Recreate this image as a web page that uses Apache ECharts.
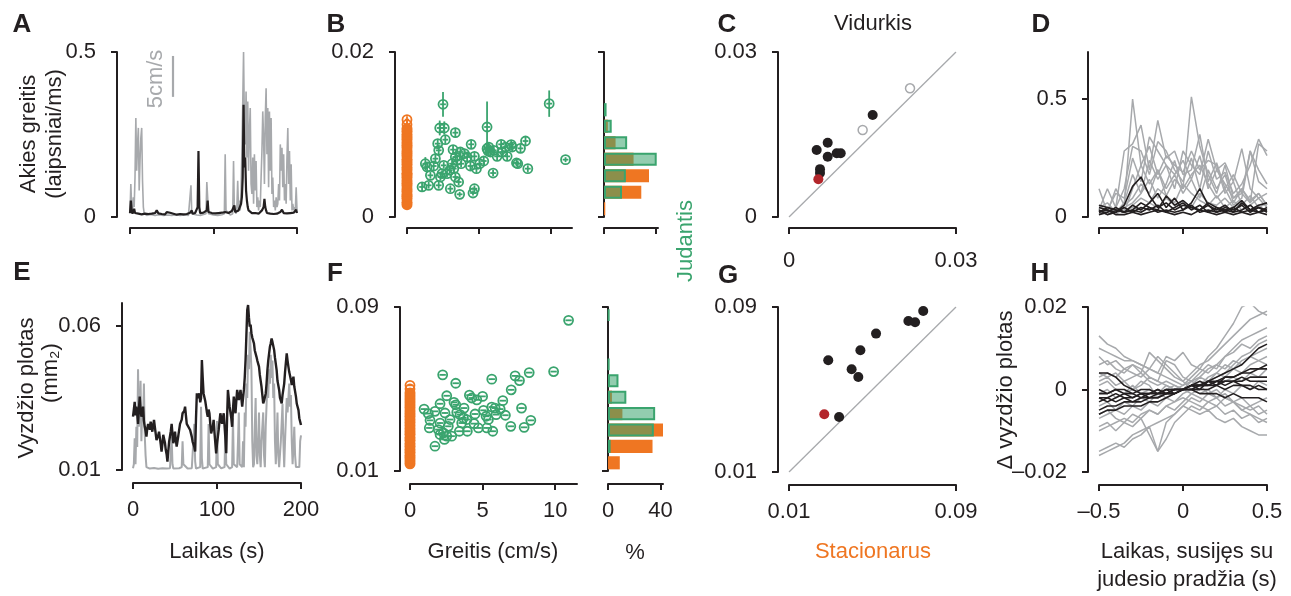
<!DOCTYPE html>
<html><head><meta charset="utf-8">
<script src="https://cdn.jsdelivr.net/npm/echarts@6/dist/echarts.min.js"></script>
<style>html,body{margin:0;padding:0;background:#fff}#c{width:1291px;height:596px}</style>
</head><body><div id="c"></div>
<script>
// ---------- DATA ----------
// Panel A: time (s), eye velocity (black) and running speed (gray, scaled)
const speedA = [[0,0.01],[1,0.10],[2,0.03],[3,0.02],[4,0.06],[5,0.03],[6,0.12],[7,0.30],[8,0.14],[9,0.22],[10,0.27],[11,0.08],[12,0.17],[13,0.24],[14,0.27],[15,0.11],[16,0.03],[17,0.01],[20,0.005],[25,0.008],[30,0.005],[35,0.007],[40,0.005],[45,0.006],[50,0.005],[55,0.007],[60,0.005],[65,0.006],[70,0.005],[72,0.01],[73,0.096],[74,0.01],[80,0.006],[85,0.005],[91,0.01],[92,0.106],[93,0.06],[94,0.01],[100,0.006],[105,0.005],[110,0.007],[113,0.01],[114,0.19],[115,0.02],[120,0.006],[123,0.01],[124,0.17],[125,0.02],[127,0.01],[128,0.03],[129,0.11],[130,0.02],[131,0.05],[132,0.02],[133,0.08],[134,0.20],[135,0.34],[136,0.50],[137,0.28],[138,0.22],[139,0.38],[140,0.18],[141,0.35],[142,0.14],[143,0.26],[144,0.33],[145,0.10],[146,0.07],[147,0.18],[148,0.04],[149,0.19],[150,0.08],[151,0.17],[152,0.03],[153,0.06],[154,0.02],[155,0.05],[156,0.03],[157,0.12],[158,0.20],[159,0.32],[160,0.24],[161,0.10],[162,0.30],[163,0.39],[164,0.19],[165,0.33],[166,0.09],[167,0.32],[168,0.14],[169,0.30],[170,0.07],[171,0.12],[172,0.03],[173,0.05],[174,0.02],[175,0.06],[176,0.03],[177,0.04],[178,0.10],[179,0.05],[180,0.22],[181,0.14],[182,0.21],[183,0.09],[184,0.19],[185,0.05],[186,0.10],[187,0.04],[188,0.18],[189,0.27],[190,0.10],[191,0.20],[192,0.05],[193,0.16],[194,0.02],[195,0.04],[196,0.02],[197,0.03],[198,0.02],[199,0.09],[200,0.02]];
const eyeA = [[0,0.012],[1,0.05],[2,0.02],[3,0.01],[4,0.015],[5,0.025],[6,0.012],[8,0.018],[10,0.01],[12,0.014],[14,0.008],[16,0.012],[18,0.01],[20,0.013],[22,0.009],[24,0.014],[26,0.01],[28,0.016],[30,0.012],[32,0.02],[34,0.011],[36,0.014],[38,0.009],[40,0.012],[42,0.008],[44,0.015],[46,0.01],[48,0.013],[50,0.008],[52,0.01],[54,0.012],[56,0.007],[58,0.011],[60,0.009],[62,0.012],[64,0.008],[66,0.01],[68,0.009],[70,0.011],[72,0.013],[74,0.02],[75,0.01],[78,0.012],[80,0.01],[81,0.03],[82,0.20],[83,0.03],[84,0.012],[86,0.01],[88,0.013],[90,0.01],[92,0.02],[93,0.05],[94,0.015],[96,0.01],[98,0.012],[100,0.009],[102,0.011],[104,0.008],[106,0.012],[108,0.01],[110,0.013],[112,0.009],[114,0.015],[116,0.01],[118,0.012],[120,0.01],[122,0.018],[124,0.012],[125,0.035],[126,0.015],[128,0.012],[130,0.02],[132,0.015],[133,0.04],[134,0.06],[135,0.12],[136,0.34],[137,0.15],[138,0.18],[139,0.08],[140,0.05],[141,0.03],[142,0.02],[144,0.015],[146,0.012],[148,0.01],[150,0.012],[152,0.015],[154,0.01],[156,0.012],[158,0.02],[160,0.03],[161,0.055],[162,0.03],[163,0.02],[164,0.012],[166,0.015],[168,0.01],[170,0.012],[172,0.009],[174,0.011],[176,0.01],[178,0.012],[180,0.015],[182,0.022],[184,0.012],[186,0.01],[188,0.011],[190,0.009],[192,0.012],[194,0.01],[196,0.013],[198,0.015],[199,0.022],[200,0.012]];
const scaleBarA = [[51.5,0.364],[51.5,0.488]];

// Panel B: speed (cm/s) vs eye velocity
const bSpeed = [2.51,5.58,9.91,11.05,2.28,2.6,3.37,2.14,2.67,2.21,3.21,3.72,4.0,4.47,3.37,3.49,4.19,4.7,4.42,4.84,5.07,5.35,5.7,5.81,6.05,6.56,6.98,7.26,7.33,7.91,8.26,7.63,7.72,8.42,6.0,6.28,1.28,1.4,1.98,1.86,1.63,1.05,1.51,2.21,2.33,2.56,2.98,3.02,3.37,3.6,3.67,4.6,4.7,3.26,3.14,3.77,2.79,2.44,5.58,5.65,6.86,6.63];
const bEye = [0.01366,0.01091,0.01374,0.00695,0.01079,0.01079,0.01022,0.00889,0.00937,0.00808,0.00816,0.00788,0.00768,0.00881,0.00727,0.00687,0.00727,0.00735,0.00618,0.00586,0.00646,0.00679,0.00848,0.00788,0.00808,0.00881,0.00735,0.00877,0.00848,0.00832,0.00921,0.00655,0.00646,0.00586,0.00533,0.00735,0.00646,0.00606,0.00707,0.00618,0.00505,0.00364,0.00384,0.00384,0.00485,0.00626,0.00566,0.00343,0.00485,0.00424,0.00275,0.00291,0.00343,0.00586,0.00646,0.00646,0.00525,0.00525,0.00828,0.00800,0.00848,0.00788];
const bEyeErr = [0.0015,0.0031,0.0016,0.0003,0.0009,0.0008,0.0006,0.0005,0.0005,0.0005,0.0005,0.0005,0.0005,0.0005,0.0005,0.0005,0.0005,0.0005,0.0005,0.0005,0.0005,0.0005,0.0005,0.0005,0.0005,0.0005,0.0005,0.0005,0.0006,0.0005,0.0005,0.0004,0.0004,0.0004,0.0004,0.0005,0.0008,0.0005,0.0005,0.0005,0.0004,0.0005,0.0004,0.0004,0.0004,0.0004,0.0004,0.0004,0.0004,0.0004,0.0003,0.0003,0.0004,0.0004,0.0004,0.0004,0.0004,0.0004,0.0005,0.0005,0.0005,0.0005];
const bStillEye = [0.0015,0.0018,0.0022,0.0025,0.0027,0.0031,0.0034,0.0038,0.0041,0.0044,0.0048,0.0051,0.0053,0.0057,0.0060,0.0064,0.0067,0.0070,0.0074,0.0077,0.0080,0.0084,0.0087,0.0090,0.0094,0.0097,0.0100,0.0104,0.0107];
const bStillTop = [0.0112,0.0118];

// Histogram bins (fraction of samples, %)
const binsB = ['0.001','0.003','0.005','0.007','0.009','0.011','0.013','0.015','0.017','0.019'];
const histBStill = [1,29,35,23,9,3,0,0,0,0];
const histBMove  = [0,14,17,41,18,6,2,0,0,0];

// Panel C: mean eye velocity, stationary vs moving
const cBlack = [[0.00497,0.01218],[0.00695,0.01351],[0.00695,0.01096],[0.00857,0.01158],[0.00929,0.01158],[0.00557,0.0087],[0.00557,0.0080],[0.01503,0.01855]];
const cOpen = [[0.01323,0.01582],[0.02174,0.0234]];
const cRed = [[0.00527,0.00685]];
const unityC = [[0,0],[0.03,0.03]];

// Panel D: eye velocity aligned to movement onset
const tRel = [-0.5,-0.45,-0.4,-0.35,-0.3,-0.25,-0.2,-0.15,-0.1,-0.05,0,0.05,0.1,0.15,0.2,0.25,0.3,0.35,0.4,0.45,0.5];
const dGray = [
 [0.12,0.02,0.12,0.05,0.50,0.22,0.14,0.20,0.09,0.16,0.12,0.51,0.30,0.18,0.10,0.22,0.08,0.12,0.06,0.10,0.05],
 [0.03,0.12,0.04,0.28,0.31,0.39,0.20,0.41,0.25,0.28,0.18,0.20,0.35,0.15,0.23,0.12,0.18,0.10,0.28,0.15,0.12],
 [0.02,0.03,0.10,0.08,0.25,0.15,0.34,0.28,0.22,0.12,0.28,0.22,0.18,0.33,0.20,0.23,0.15,0.29,0.12,0.08,0.10],
 [0.05,0.02,0.04,0.12,0.30,0.28,0.18,0.32,0.28,0.20,0.15,0.25,0.12,0.28,0.16,0.19,0.10,0.14,0.22,0.33,0.26],
 [0.01,0.04,0.02,0.06,0.18,0.10,0.24,0.16,0.22,0.18,0.24,0.16,0.26,0.12,0.20,0.14,0.08,0.10,0.06,0.31,0.28],
 [0.02,0.01,0.03,0.02,0.12,0.22,0.30,0.18,0.26,0.22,0.19,0.28,0.20,0.24,0.22,0.10,0.15,0.05,0.09,0.04,0.06],
 [0.04,0.06,0.02,0.05,0.08,0.14,0.10,0.20,0.12,0.18,0.10,0.16,0.08,0.20,0.12,0.18,0.06,0.12,0.07,0.10,0.05],
 [0.02,0.03,0.01,0.04,0.06,0.10,0.16,0.08,0.14,0.24,0.12,0.18,0.22,0.14,0.08,0.12,0.05,0.08,0.28,0.20,0.14],
 [0.01,0.02,0.03,0.02,0.05,0.08,0.06,0.12,0.09,0.06,0.14,0.10,0.07,0.05,0.09,0.04,0.07,0.03,0.05,0.08,0.04],
 [0.03,0.01,0.02,0.03,0.04,0.03,0.06,0.04,0.08,0.05,0.07,0.04,0.10,0.06,0.05,0.08,0.04,0.06,0.03,0.05,0.02]
];
const dBlack = [
 [0.04,0.03,0.02,0.05,0.13,0.17,0.09,0.04,0.06,0.03,0.05,0.04,0.03,0.05,0.02,0.04,0.03,0.05,0.02,0.04,0.03],
 [0.02,0.04,0.03,0.02,0.05,0.03,0.06,0.10,0.04,0.08,0.03,0.06,0.12,0.05,0.03,0.05,0.02,0.06,0.03,0.02,0.04],
 [0.01,0.02,0.04,0.02,0.03,0.06,0.04,0.03,0.09,0.05,0.07,0.04,0.03,0.06,0.04,0.02,0.04,0.07,0.03,0.05,0.06],
 [0.03,0.01,0.02,0.04,0.02,0.04,0.03,0.05,0.02,0.04,0.06,0.03,0.05,0.02,0.04,0.03,0.02,0.03,0.05,0.02,0.03],
 [0.05,0.04,0.03,0.02,0.03,0.02,0.04,0.02,0.03,0.02,0.03,0.05,0.02,0.03,0.02,0.03,0.04,0.02,0.03,0.04,0.02],
 [0.02,0.03,0.01,0.01,0.02,0.01,0.02,0.03,0.02,0.01,0.02,0.01,0.03,0.02,0.01,0.02,0.01,0.02,0.01,0.02,0.01]
];

// Panel E: pupil area (black) and speed (gray, scaled)
const speedE = [[0,0.0106],[1,0.012],[2,0.021],[3,0.012],[4,0.025],[5,0.018],[6,0.045],[7,0.025],[8,0.03],[9,0.041],[10,0.02],[11,0.032],[12,0.027],[13,0.040],[14,0.022],[15,0.015],[16,0.011],[20,0.0105],[25,0.0107],[30,0.0104],[35,0.0106],[40,0.0105],[44,0.0106],[45,0.016],[46,0.0216],[47,0.012],[48,0.0105],[55,0.0106],[58,0.011],[59,0.02],[60,0.012],[65,0.0105],[70,0.0106],[72,0.011],[73,0.026],[74,0.013],[75,0.0105],[80,0.011],[81,0.032],[82,0.014],[83,0.0105],[89,0.011],[90,0.026],[91,0.012],[95,0.0105],[99,0.011],[100,0.027],[101,0.012],[105,0.0106],[109,0.011],[110,0.025],[111,0.012],[115,0.0105],[118,0.011],[119,0.028],[120,0.012],[124,0.011],[125,0.02],[126,0.03],[127,0.012],[130,0.011],[131,0.02],[132,0.011],[133,0.03],[134,0.025],[135,0.04],[136,0.035],[137,0.05],[138,0.045],[139,0.058],[140,0.052],[141,0.045],[142,0.02],[143,0.011],[144,0.012],[145,0.025],[146,0.035],[147,0.015],[148,0.012],[149,0.02],[150,0.03],[151,0.015],[152,0.011],[153,0.02],[155,0.03],[156,0.015],[157,0.011],[158,0.025],[160,0.04],[161,0.035],[162,0.045],[163,0.04],[164,0.05],[165,0.042],[166,0.048],[167,0.035],[168,0.04],[169,0.02],[170,0.012],[171,0.02],[172,0.03],[173,0.015],[174,0.011],[176,0.02],[178,0.033],[179,0.02],[180,0.011],[181,0.02],[183,0.035],[184,0.03],[186,0.04],[187,0.032],[188,0.036],[189,0.02],[190,0.012],[191,0.018],[192,0.025],[193,0.015],[194,0.011],[196,0.0105],[198,0.011],[199,0.02],[200,0.022]];
const pupilE = [[0,0.0285],[1,0.031],[2,0.0337],[3,0.029],[4,0.032],[5,0.0295],[6,0.026],[7,0.031],[8,0.0355],[9,0.031],[10,0.0285],[11,0.0305],[12,0.032],[13,0.027],[14,0.025],[15,0.0235],[16,0.0216],[17,0.0245],[18,0.026],[20,0.024],[21,0.0268],[22,0.025],[23,0.0233],[24,0.0255],[25,0.0274],[26,0.025],[28,0.0204],[30,0.022],[31,0.0233],[33,0.019],[34,0.0164],[35,0.019],[36,0.0222],[38,0.0195],[39,0.017],[40,0.0155],[41,0.0129],[42,0.0165],[43,0.0198],[45,0.0235],[46,0.026],[47,0.0225],[48,0.0193],[49,0.021],[50,0.0233],[51,0.0205],[52,0.0181],[54,0.022],[56,0.026],[58,0.0275],[59,0.0297],[61,0.0305],[62,0.032],[63,0.029],[64,0.026],[66,0.0255],[68,0.0239],[70,0.0215],[71,0.0198],[73,0.018],[74,0.0164],[75,0.028],[76,0.0366],[77,0.035],[79,0.0366],[80,0.0335],[81,0.0349],[82,0.0482],[83,0.042],[84,0.0366],[86,0.034],[87,0.032],[88,0.030],[89,0.0285],[90,0.031],[91,0.0297],[92,0.026],[93,0.0227],[95,0.025],[96,0.0274],[97,0.023],[99,0.0158],[100,0.019],[102,0.0239],[103,0.027],[104,0.0297],[105,0.028],[106,0.026],[107,0.028],[108,0.0297],[110,0.021],[111,0.0158],[112,0.028],[113,0.0378],[114,0.035],[115,0.032],[117,0.028],[118,0.025],[119,0.031],[120,0.0355],[121,0.032],[122,0.0297],[123,0.034],[124,0.0378],[125,0.036],[126,0.0343],[127,0.036],[128,0.0378],[129,0.035],[130,0.032],[131,0.035],[132,0.0378],[133,0.042],[134,0.0482],[135,0.057],[136,0.0656],[137,0.0673],[138,0.063],[139,0.0598],[140,0.0605],[141,0.0575],[142,0.056],[144,0.054],[145,0.0515],[147,0.0493],[148,0.048],[150,0.0459],[151,0.043],[153,0.0389],[154,0.036],[155,0.0331],[156,0.034],[158,0.0366],[159,0.040],[160,0.0447],[161,0.048],[163,0.0528],[164,0.054],[165,0.0557],[166,0.0545],[168,0.0517],[169,0.049],[171,0.0447],[172,0.041],[174,0.0378],[175,0.035],[177,0.0331],[178,0.036],[180,0.040],[181,0.044],[183,0.0505],[184,0.048],[185,0.0459],[186,0.044],[188,0.0413],[189,0.0395],[191,0.0424],[192,0.039],[194,0.0355],[195,0.033],[197,0.0308],[198,0.028],[200,0.0256]];

// Panel F: speed vs pupil area
const fSpeed = [10.92,9.89,8.21,7.24,7.54,5.63,2.25,3.15,6.97,2.53,4.09,4.25,4.6,5.0,6.39,3.03,3.15,2.07,0.97,3.72,5.63,5.86,6.21,7.68,2.41,1.26,1.72,3.22,3.45,4.48,5.06,5.24,5.93,6.57,5.4,3.68,3.91,1.38,2.76,8.32,7.86,6.94,4.71,5.29,5.7,1.33,1.95,2.3,2.53,2.37,2.87,2.07,3.4,3.95,2.64,1.72,3.56,4.41,2.07];
const fPupil = [0.0835,0.0585,0.058,0.0564,0.0541,0.0548,0.0569,0.0528,0.0496,0.0467,0.047,0.0456,0.0447,0.0464,0.0443,0.0435,0.0423,0.0428,0.0402,0.0407,0.0412,0.0407,0.0402,0.0407,0.0383,0.038,0.0391,0.0386,0.0375,0.0378,0.0396,0.0367,0.0375,0.0372,0.0351,0.0359,0.0351,0.0347,0.0351,0.0347,0.0313,0.0318,0.031,0.031,0.0294,0.031,0.0302,0.0286,0.027,0.0254,0.027,0.0278,0.0294,0.0294,0.0318,0.0221,0.0334,0.0331,0.0334];
const fStillPupil = [0.0135,0.0149,0.0163,0.0176,0.0192,0.0205,0.0221,0.0234,0.0250,0.0263,0.0279,0.0292,0.0306,0.0321,0.0336,0.0350,0.0366,0.0379,0.0393,0.0408,0.0422,0.0437,0.0451,0.0466,0.0480];
const fStillTop = [0.0500,0.0518];
const binsF = ['0.014','0.022','0.030','0.038','0.046','0.054','0.062','0.070','0.078','0.086'];
const histFStill = [9,34,42,11,3,0,0,0,0,0];
const histFMove  = [0,2,35,36,14,8,1,0,0,1];

// Panel G: mean pupil area, stationary vs moving
const gBlack = [[0.0288,0.0642],[0.0442,0.0690],[0.0517,0.0771],[0.0400,0.0598],[0.0432,0.0561],[0.0340,0.0367],[0.0672,0.0832],[0.0704,0.0826],[0.0743,0.0881]];
const gRed = [[0.0269,0.0380]];
const unityG = [[0.01,0.01],[0.09,0.09]];

// Panel H: change in pupil area aligned to movement onset
const hGray = [
 [0.013,0.011,0.010,0.008,0.007,0.006,0.005,0.004,0.003,0.002,0.001,0.003,0.005,0.008,0.010,0.013,0.016,0.020,0.021,0.019,0.018],
 [0.010,0.009,0.008,0.007,0.007,0.006,0.005,0.008,0.006,0.004,0.002,0.004,0.006,0.007,0.009,0.011,0.013,0.015,0.017,0.018,0.019],
 [0.006,0.007,0.005,0.004,0.006,0.005,0.003,0.002,0.007,0.006,0.003,0.002,0.004,0.006,0.005,0.008,0.010,0.012,0.013,0.014,0.015],
 [0.004,0.003,0.004,0.002,0.003,0.004,0.002,0.001,0.002,0.001,0.000,0.002,0.003,0.005,0.006,0.008,0.009,0.011,0.010,0.012,0.013],
 [0.002,0.003,0.001,0.002,0.000,0.001,0.003,0.002,0.001,0.000,0.001,0.002,0.001,0.003,0.004,0.006,0.005,0.007,0.008,0.009,0.010],
 [-0.001,0.000,-0.002,-0.001,0.001,-0.001,0.000,-0.001,0.001,0.000,0.000,0.001,0.003,0.002,0.004,0.003,0.005,0.004,0.006,0.007,0.008],
 [-0.004,-0.003,-0.005,-0.003,-0.004,-0.002,-0.003,-0.001,-0.002,-0.001,0.000,0.001,0.000,0.002,0.001,0.002,0.003,0.002,0.004,0.003,0.005],
 [-0.007,-0.006,-0.005,-0.006,-0.004,-0.005,-0.003,-0.004,-0.002,-0.003,-0.001,0.000,-0.001,0.000,-0.002,-0.001,-0.003,-0.002,-0.004,-0.003,-0.002],
 [-0.010,-0.009,-0.008,-0.007,-0.008,-0.006,-0.005,-0.006,-0.004,-0.003,-0.002,-0.003,-0.004,-0.005,-0.004,-0.006,-0.005,-0.007,-0.006,-0.008,-0.007],
 [-0.015,-0.014,-0.013,-0.014,-0.012,-0.011,-0.009,-0.015,-0.008,-0.006,-0.004,-0.005,-0.006,-0.005,-0.007,-0.008,-0.007,-0.009,-0.010,-0.011,-0.011],
 [-0.016,-0.015,-0.014,-0.013,-0.011,-0.010,-0.009,-0.008,-0.007,-0.006,-0.004,-0.002,-0.003,-0.001,-0.002,0.000,-0.001,0.001,0.000,0.002,0.001],
 [0.008,0.006,0.007,0.005,0.006,0.004,0.009,0.007,0.005,0.003,0.002,0.000,0.001,-0.001,0.000,-0.002,-0.003,-0.004,-0.005,-0.004,-0.006],
 [0.003,0.004,0.003,0.005,0.004,0.003,0.005,0.004,0.008,0.007,0.009,0.006,0.005,0.004,0.006,0.005,0.007,0.006,0.008,0.007,0.006],
 [-0.009,-0.008,-0.010,-0.008,-0.009,-0.007,-0.011,-0.015,-0.012,-0.008,-0.006,-0.004,-0.005,-0.003,-0.004,-0.002,-0.003,-0.005,-0.004,-0.006,-0.005],
 [0.001,0.002,0.000,-0.001,0.000,0.002,0.001,-0.002,0.000,0.001,0.000,-0.001,-0.002,-0.003,-0.002,-0.004,-0.003,-0.005,-0.006,-0.007,-0.008],
 [-0.006,-0.005,-0.007,-0.008,-0.006,-0.007,-0.005,-0.006,-0.004,-0.005,-0.003,-0.001,0.000,0.002,0.003,0.004,0.006,0.008,0.009,0.011,0.012]
];
const hBlack = [
 [0.004,0.004,0.003,0.001,0.000,-0.001,-0.001,0.000,-0.001,0.000,0.000,0.001,0.001,0.002,0.003,0.004,0.005,0.006,0.008,0.010,0.011],
 [-0.001,-0.001,0.000,-0.001,-0.001,-0.002,-0.001,-0.001,0.000,-0.001,0.000,0.001,0.000,0.002,0.001,0.003,0.003,0.004,0.005,0.005,0.006],
 [-0.003,-0.002,-0.003,-0.002,-0.002,-0.001,-0.002,-0.001,-0.001,0.000,0.000,0.001,0.001,0.002,0.002,0.003,0.003,0.004,0.004,0.005,0.005],
 [-0.005,-0.004,-0.004,-0.003,-0.003,-0.003,-0.002,-0.002,-0.001,-0.001,0.000,0.000,0.001,0.001,0.001,0.002,0.002,0.002,0.003,0.003,0.003],
 [-0.006,-0.005,-0.005,-0.004,-0.004,-0.004,-0.003,-0.003,-0.002,-0.001,0.000,0.000,0.000,0.000,0.001,0.000,0.001,0.001,0.000,0.001,0.000],
 [0.000,-0.001,0.000,0.000,-0.001,0.000,0.000,-0.001,0.000,0.000,0.000,0.000,-0.001,-0.001,-0.001,-0.002,-0.001,-0.002,-0.002,-0.002,-0.003],
 [-0.002,-0.002,-0.001,-0.002,-0.003,-0.002,-0.002,-0.002,-0.001,-0.001,0.000,0.001,0.001,0.001,0.002,0.002,0.002,0.003,0.002,0.002,0.002],
 [-0.002,-0.003,-0.002,-0.001,-0.002,-0.001,-0.001,0.000,-0.001,0.000,0.000,0.001,0.002,0.001,0.002,0.001,0.002,0.001,0.001,0.000,0.000]
];

// ---------- STYLE ----------
const FONT = '"Liberation Sans", Arial, Helvetica, sans-serif';
const FS = 22;
const INK = '#231f20', GRAY = '#a7a9ac', GREEN = '#3aa46e', ORANGE = '#ef7622', RED = '#b3262b';
const GREEN_FILL = 'rgba(58,164,110,0.55)';

const fmt = v => (v < 0 ? '\u2013' + Math.abs(v) : String(v));
function vAxis(gridIndex, min, max, ticks, o) {
  o = o || {};
  return {
    type: 'value', gridIndex, min, max, offset: o.offset || 0,
    axisLine: { show: true, onZero: false, lineStyle: { color: INK, width: 2 } },
    axisTick: { show: true, length: 6, customValues: ticks, lineStyle: { color: INK, width: 2 } },
    axisLabel: { show: o.labels !== false, customValues: ticks, margin: o.margin || 21, fontSize: FS,
      color: INK, fontFamily: FONT, formatter: fmt },
    splitLine: { show: false }
  };
}
const grids = [
  { left: 130, top: 52, width: 167, height: 165 },   // A
  { left: 407, top: 52, width: 165, height: 165 },   // B
  { left: 604, top: 52, width: 54, height: 165 },    // B hist
  { left: 789, top: 52, width: 167, height: 165 },   // C
  { left: 1099, top: 52, width: 168, height: 165 },  // D
  { left: 133, top: 303, width: 168, height: 167 },  // E
  { left: 410, top: 307, width: 167, height: 164 },  // F
  { left: 608, top: 307, width: 55, height: 164 },   // F hist
  { left: 789, top: 307, width: 167, height: 165 },  // G
  { left: 1099, top: 307, width: 168, height: 165 }  // H
].map(g => Object.assign({ containLabel: false, outerBoundsMode: 'none' }, g));

const xAxes = [
  vAxis(0, 0, 200, [0, 100, 200], { offset: 11, labels: false }),
  vAxis(1, 0, 11.5, [0, 5, 10], { offset: 11, labels: false }),
  vAxis(2, 0, 42, [0, 40], { offset: 11, labels: false }),
  vAxis(3, 0, 0.03, [0, 0.03], { offset: 11, margin: 22 }),
  vAxis(4, -0.5, 0.5, [-0.5, 0, 0.5], { offset: 11, labels: false }),
  vAxis(5, 0, 200, [0, 100, 200], { offset: 13, margin: 16 }),
  vAxis(6, 0, 11.5, [0, 5, 10], { offset: 13, margin: 16 }),
  vAxis(7, 0, 42, [0, 40], { offset: 13, margin: 16 }),
  vAxis(8, 0.01, 0.09, [0.01, 0.09], { offset: 13, margin: 16 }),
  vAxis(9, -0.5, 0.5, [-0.5, 0, 0.5], { offset: 13, margin: 16 })
];
const yAxes = [
  vAxis(0, 0, 0.5, [0, 0.5], { offset: 13 }),
  vAxis(1, 0, 0.02, [0, 0.02], { offset: 12 }),
  vAxis(2, 0, 0.02, [0, 0.02], { labels: false }),
  vAxis(3, 0, 0.03, [0, 0.03], { offset: 11 }),
  vAxis(4, 0, 0.7, [0, 0.5], { offset: 11 }),
  vAxis(5, 0.01, 0.068, [0.01, 0.06], { offset: 11 }),
  vAxis(6, 0.01, 0.09, [0.01, 0.09], { offset: 10 }),
  vAxis(7, 0.01, 0.09, [0.01, 0.09], { labels: false }),
  vAxis(8, 0.01, 0.09, [0.01, 0.09], { offset: 11 }),
  vAxis(9, -0.02, 0.02, [-0.02, 0, 0.02], { offset: 11 }),
  { type: 'category', gridIndex: 2, data: binsB, show: false, boundaryGap: true },
  { type: 'category', gridIndex: 7, data: binsF, show: false, boundaryGap: true }
];

function line(xi, yi, data, color, width, z) {
  return { type: 'line', xAxisIndex: xi, yAxisIndex: yi, data, showSymbol: false, symbol: 'none',
    lineStyle: { color, width }, z: z || 2, silent: true };
}
function errRender(color) {
  return function (params, api) {
    const x = api.value(0), y = api.value(1), ex = api.value(2), ey = api.value(3);
    const c = api.coord([x, y]);
    const l = api.coord([x - ex, y]), r = api.coord([x + ex, y]);
    const t = api.coord([x, y + ey]), b = api.coord([x, y - ey]);
    const st = { stroke: color, lineWidth: 1.8, fill: null };
    return { type: 'group', children: [
      { type: 'line', shape: { x1: l[0], y1: l[1], x2: r[0], y2: r[1] }, style: st },
      { type: 'line', shape: { x1: t[0], y1: t[1], x2: b[0], y2: b[1] }, style: st },
      { type: 'circle', shape: { cx: c[0], cy: c[1], r: 4.5 }, style: { stroke: color, lineWidth: 1.8, fill: 'rgba(255,255,255,0)' } }
    ] };
  };
}
function errSeries(xi, yi, data, color, z) {
  return { type: 'custom', xAxisIndex: xi, yAxisIndex: yi, data, renderItem: errRender(color), z: z || 3, silent: true, clip: false };
}
function dots(xi, yi, data, color, size, open) {
  return { type: 'scatter', xAxisIndex: xi, yAxisIndex: yi, data, symbol: 'circle', symbolSize: size,
    itemStyle: open ? { color: '#fff', borderColor: color, borderWidth: 1.5, opacity: 1 } : { color, opacity: 1 },
    z: 4, silent: true, clip: false };
}
function bars(xi, yi, data, fill, border, z) {
  return { type: 'bar', xAxisIndex: xi, yAxisIndex: yi, data: data.map(v => (v === 0 ? '-' : v)),
    barWidth: '80%', barGap: '-100%',
    itemStyle: { color: fill, borderColor: border || fill, borderWidth: border ? 2 : 0 }, z: z || 2, silent: true };
}

const series = [];
// A
series.push(line(0, 0, speedA, GRAY, 1.6, 2));
series.push(line(0, 0, eyeA, INK, 2.2, 3));
series.push(line(0, 0, scaleBarA, GRAY, 2.2, 3));
// B
const bMoveData = bSpeed.map((s, i) => [s, bEye[i], 0.2, bEyeErr[i]]);
series.push(dots(1, 1, bStillEye.map(v => [0, v]), ORANGE, 11, false));
series.push(errSeries(1, 1, bStillTop.map(v => [0, v, 0.15, 0.0004]), ORANGE, 3));
series.push(errSeries(1, 1, bMoveData, GREEN, 4));
series.push(bars(2, 10, histBStill, ORANGE, null, 2));
series.push(bars(2, 10, histBMove, GREEN_FILL, GREEN, 3));
// C
series.push(line(3, 3, unityC, GRAY, 1.3, 2));
series.push(dots(3, 3, cBlack, INK, 10, false));
series.push(dots(3, 3, cOpen, GRAY, 9, true));
series.push(dots(3, 3, cRed, RED, 10, false));
// D
dGray.forEach(v => series.push(line(4, 4, tRel.map((t, i) => [t, v[i]]), GRAY, 1.5, 2)));
dBlack.forEach(v => series.push(line(4, 4, tRel.map((t, i) => [t, v[i]]), INK, 1.6, 3)));
// E
series.push(line(5, 5, speedE, GRAY, 2, 2));
series.push(line(5, 5, pupilE, INK, 2.4, 3));
// F
const fMoveData = fSpeed.map((s, i) => [s, fPupil[i], 0.22, 0.0002]);
series.push(dots(6, 6, fStillPupil.map(v => [0, v]), ORANGE, 11, false));
series.push(errSeries(6, 6, fStillTop.map(v => [0, v, 0.15, 0.0002]), ORANGE, 3));
series.push(errSeries(6, 6, fMoveData, GREEN, 4));
series.push(bars(7, 11, histFStill, ORANGE, null, 2));
series.push(bars(7, 11, histFMove, GREEN_FILL, GREEN, 3));
// G
series.push(line(8, 8, unityG, GRAY, 1.3, 2));
series.push(dots(8, 8, gBlack, INK, 10, false));
series.push(dots(8, 8, gRed, RED, 10, false));
// H
hGray.forEach(v => series.push(line(9, 9, tRel.map((t, i) => [t, v[i]]), GRAY, 1.5, 2)));
hBlack.forEach(v => series.push(line(9, 9, tRel.map((t, i) => [t, v[i]]), INK, 1.6, 3)));

// ---------- TEXT ----------
function txt(text, x, y, o) {
  o = o || {};
  return { type: 'text', x, y, rotation: o.rot ? Math.PI / 2 : 0, z: 10, silent: true,
    style: { text, fill: o.color || INK, font: (o.bold ? 'bold ' : '') + (o.size || FS) + 'px ' + FONT,
      align: 'center', verticalAlign: 'middle' } };
}
const graphics = [
  txt('A', 22, 25, { bold: true, size: 26 }), txt('B', 336, 25, { bold: true, size: 26 }),
  txt('C', 727, 25, { bold: true, size: 26 }), txt('D', 1041, 25, { bold: true, size: 26 }),
  txt('E', 22, 273, { bold: true, size: 26 }), txt('F', 335, 274, { bold: true, size: 26 }),
  txt('G', 728, 276, { bold: true, size: 26 }), txt('H', 1040, 274, { bold: true, size: 26 }),
  txt('Akies greitis', 29, 134, { rot: true }), txt('(laipsniai/ms)', 55, 134, { rot: true }),
  txt('5cm/s', 156, 79, { rot: true, color: GRAY }),
  txt('Vidurkis', 873, 24),
  txt('Judantis', 686, 241, { rot: true, color: GREEN }),
  txt('Vyzdžio plotas', 27, 388, { rot: true }), txt('(mm\u2082)', 51, 373, { rot: true }),
  txt('Laikas (s)', 217, 552), txt('Greitis (cm/s)', 493, 552), txt('%', 635, 553),
  txt('Stacionarus', 873, 552, { color: ORANGE }),
  txt('Laikas, susijęs su', 1187, 552), txt('judesio pradžia (s)', 1187, 580),
  txt('\u0394 vyzdžio plotas', 1006, 390, { rot: true })
];

const chart = echarts.init(document.getElementById('c'), null, { renderer: 'canvas', width: 1291, height: 596 });
chart.setOption({
  animation: false,
  backgroundColor: '#fff',
  textStyle: { fontFamily: FONT },
  grid: grids, xAxis: xAxes, yAxis: yAxes, series, graphic: graphics
});
</script></body></html>
